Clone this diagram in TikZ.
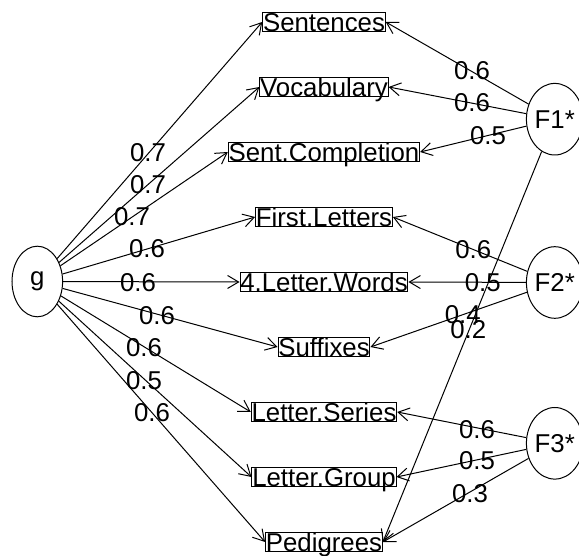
\documentclass[tikz,border=0pt]{standalone}
\usepackage{fontspec}
\setmainfont{Liberation Sans}
\usetikzlibrary{arrows.meta,shapes.geometric}
\begin{document}
\begin{tikzpicture}[x=1pt,y=-1pt,
  every node/.style={font=\fontsize{25.8}{30}\selectfont},
  var/.style={draw,line width=1pt,inner xsep=0.3pt,inner ysep=0pt,text height=18.5pt,text depth=0pt},
  fac/.style={draw,ellipse,line width=1pt,inner sep=0pt,minimum width=45pt,minimum height=71.6pt},
  arr/.style={line width=1pt,-{Straight Barb[length=11pt,width=13pt,line width=1pt]}},
  lab/.style={inner sep=0pt}]
\useasboundingbox (0,0) rectangle (579,556);
% variables
\node[var] (s1) at (324,22) {Sentences};
\node[var] (s2) at (324,87) {Vocabulary};
\node[var] (s3) at (324,152) {Sent.Completion};
\node[var] (s4) at (324,217) {First.Letters};
\node[var] (s5) at (324,282) {4.Letter.Words};
\node[var] (s6) at (324,347) {Suffixes};
\node[var] (s7) at (324,412) {Letter.Series};
\node[var] (s8) at (324,477) {Letter.Group};
\node[var] (s9) at (324,542) {Pedigrees};
% factors
\node[fac,minimum width=50.6pt,minimum height=70.6pt] (g) at (37.3,281.5) {\raisebox{-3pt}{g}};
\node[fac] (F1) at (554.8,119.2) {F1*};
\node[fac] (F2) at (554.8,282.5) {F2*};
\node[fac] (F3) at (554.8,443.3) {F3*};
% g loadings
\draw[arr] (g) -- (s1.west);
\draw[arr] (g) -- (s2.west);
\draw[arr] (g) -- (s3.west);
\draw[arr] (g) -- (s4.west);
\draw[arr] (g) -- (s5.west);
\draw[arr] (g) -- (s6.west);
\draw[arr] (g) -- (s7.west);
\draw[arr] (g) -- (s8.west);
\draw[arr] (g) -- (s9.west);
\node[lab] (l1) at (148,153) {0.7};
\node[lab] (l2) at (148,185) {0.7};
\node[lab] (l3) at (132,217) {0.7};
\node[lab] (l4) at (147,249) {0.6};
\node[lab] (l5) at (138,283) {0.6};
\node[lab] (l6) at (157,316) {0.6};
\node[lab] (l7) at (144,348) {0.6};
\node[lab] (l8) at (144,381) {0.5};
\node[lab] (l9) at (152,413) {0.6};
% group factor loadings
\draw[arr] (F1) -- (s1.east);
\draw[arr] (F1) -- (s2.east);
\draw[arr] (F1) -- (s3.east);
\draw[arr] (F1) -- (s9.east);
\draw[arr] (F2) -- (s4.east);
\draw[arr] (F2) -- (s5.east);
\draw[arr] (F2) -- (s6.east);
\draw[arr] (F3) -- (s7.east);
\draw[arr] (F3) -- (s8.east);
\draw[arr] (F3) -- (s9.east);
\node[lab] (r1) at (472,71) {0.6};
\node[lab] (r2) at (472,103) {0.6};
\node[lab] (r3) at (488,136) {0.5};
\node[lab] (r4) at (473.3,249.3) {0.6};
\node[lab] (r5) at (482.7,282.3) {0.5};
\node[lab] (r6) at (462.7,315) {0.4};
\node[lab] (r7) at (468.3,330) {0.2};
\node[lab] (r8) at (477,430) {0.6};
\node[lab] (r9) at (477,461) {0.5};
\node[lab] (r10) at (470,494) {0.3};
\end{tikzpicture}
\end{document}
